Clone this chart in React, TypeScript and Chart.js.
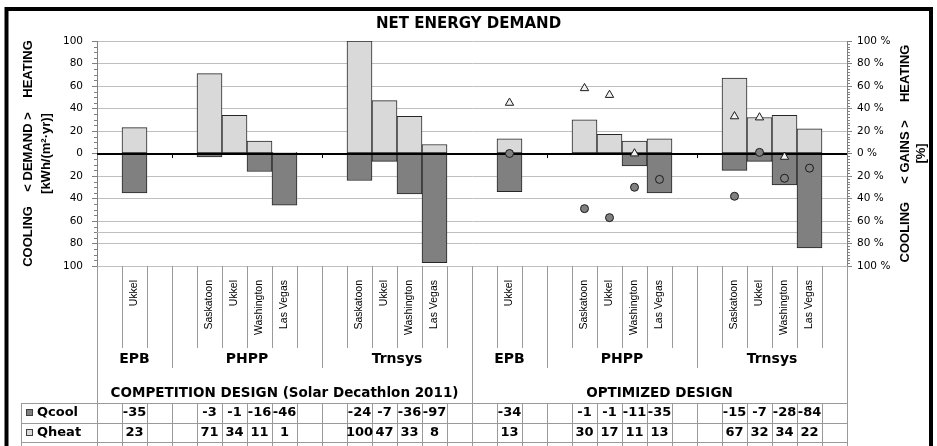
import React, { useEffect, useRef } from 'react';
import { Chart, registerables } from 'chart.js';

Chart.register(...registerables);

// ---------------- data ----------------
const chartTitle = 'NET ENERGY DEMAND';
const designs = ['COMPETITION DESIGN (Solar Decathlon 2011)', 'OPTIMIZED DESIGN'];
const tools = ['EPB', 'PHPP', 'Trnsys'];
const epbCities = ['Ukkel'];
const climateCities = ['Saskatoon', 'Ukkel', 'Washington', 'Las Vegas'];
const toolCities = [epbCities, climateCities, climateCities];

// order: EPB Ukkel | PHPP Saskatoon, Ukkel, Washington, Las Vegas | Trnsys Saskatoon, Ukkel, Washington, Las Vegas
const qcoolCompetition = [-35, -3, -1, -16, -46, -24, -7, -36, -97];
const qheatCompetition = [23, 71, 34, 11, 1, 100, 47, 33, 8];
const qcoolOptimized = [-34, -1, -1, -11, -35, -15, -7, -28, -84];
const qheatOptimized = [13, 30, 17, 11, 13, 67, 32, 34, 22];

// gains [%] (right axis)
const heatingGainsCompetition = [null, null, null, null, null, null, null, null, null];
const heatingGainsOptimized = [45, 58, 52, 0, null, 33, 32, -3, null];
const coolingGainsCompetition = [null, null, null, null, null, null, null, null, null];
const coolingGainsOptimized = [0, -49, -57, -30, -23, -38, 1, -22, -13];

const tableRowNames = ['Qcool', 'Qheat'];
const leftAxisTitle = ['COOLING    < DEMAND >    HEATING', '[kWh/(m²·yr)]'];
const rightAxisTitle = ['COOLING     < GAINS >     HEATING', '[%]'];
const axisMin = -100;
const axisMax = 100;
const axisStep = 20;
const extraGridValue = -70;

// ---------------- category structure ----------------
type Slot = { label: string; design: number; tool: number; item: number | null };
const slots: Slot[] = [];
designs.forEach((_, d) => {
  let item = 0;
  toolCities.forEach((cities, t) => {
    slots.push({ label: '', design: d, tool: t, item: null });
    cities.forEach((c) => {
      slots.push({ label: c, design: d, tool: t, item });
      item += 1;
    });
    slots.push({ label: '', design: d, tool: t, item: null });
  });
});
const categoryLabels = slots.map((s) => s.label);
const place = (perDesign: (number | null)[][]) =>
  slots.map((s) => (s.item === null ? null : perDesign[s.design][s.item] ?? null));

const qcool = place([qcoolCompetition, qcoolOptimized]);
const qheat = place([qheatCompetition, qheatOptimized]);
const heatingGains = place([heatingGainsCompetition, heatingGainsOptimized]);
const coolingGains = place([coolingGainsCompetition, coolingGainsOptimized]);

// ---------------- styles ----------------
const SANS = '"DejaVu Sans"';
const ARIAL = '"Liberation Sans"';
const GRID = '#BFBFBF';
const AXIS = '#808080';
const FRAME_LINE = '#9A9A9A';
const COOL = '#808080';
const HEAT = '#D9D9D9';
const EDGE = '#262626';

function hline(ctx: CanvasRenderingContext2D, x1: number, x2: number, y: number) {
  ctx.beginPath();
  ctx.moveTo(x1, y);
  ctx.lineTo(x2, y);
  ctx.stroke();
}
function vline(ctx: CanvasRenderingContext2D, x: number, y1: number, y2: number) {
  ctx.beginPath();
  ctx.moveTo(x, y1);
  ctx.lineTo(x, y2);
  ctx.stroke();
}
const crisp = (v: number) => Math.round(v) + 0.5;

function drawZero(chart: any) {
  const { ctx, chartArea: a, scales } = chart;
  const py = scales.y.getPixelForValue(0);
  ctx.save();
  ctx.strokeStyle = '#000';
  ctx.lineWidth = 2;
  hline(ctx, a.left, a.right, Math.round(py));
  ctx.restore();
}

const decorPlugin = {
  id: 'decor',
  beforeDatasetsDraw(chart: any) {
    const { ctx, chartArea: a, scales } = chart;
    ctx.save();
    ctx.strokeStyle = GRID;
    ctx.lineWidth = 1;
    hline(ctx, a.left, a.right, crisp(scales.y.getPixelForValue(extraGridValue)));
    ctx.restore();
    chart.$zeroDone = false;
  },
  beforeDatasetDraw(chart: any, args: any) {
    if (args.meta.type === 'bar' || chart.$zeroDone) return;
    drawZero(chart);
    chart.$zeroDone = true;
  },
  afterDatasetsDraw(chart: any) {
    if (!chart.$zeroDone) {
      drawZero(chart);
      chart.$zeroDone = true;
    }
  },
  afterDraw(chart: any) {
    const { ctx, chartArea: a, scales } = chart;
    const x = scales.x;
    const y = scales.y;
    const y2 = scales.y2;
    const H = chart.height;
    const n = slots.length;
    const step = x.getPixelForValue(1) - x.getPixelForValue(0);
    const edge = (b: number) => x.getPixelForValue(0) - step / 2 + b * step;

    const cityTierBottom = a.bottom + 82;
    const toolTierBottom = a.bottom + 102;
    const toolLabelY = a.bottom + 93;
    const designLabelY = a.bottom + 127;
    const tableTop = a.bottom + 137;
    const rowH = 19.5;
    const tableLeft = a.left - 76;

    ctx.save();
    // minor ticks on axes
    ctx.strokeStyle = AXIS;
    ctx.lineWidth = 1;
    for (let v = axisMin; v <= axisMax; v += 5) {
      if (v % axisStep === 0) continue;
      hline(ctx, a.left - 3, a.left, crisp(y.getPixelForValue(v)));
    }
    for (let v = axisMin; v <= axisMax; v += 2.5) {
      if (v % axisStep === 0) continue;
      hline(ctx, a.right, a.right + 3, crisp(y2.getPixelForValue(v)));
    }

    // tick marks on the zero line between tool groups
    const y0 = Math.round(y.getPixelForValue(0));
    ctx.strokeStyle = '#000';
    for (let b = 1; b < n; b++) {
      const p = slots[b - 1];
      const q = slots[b];
      if (p.design === q.design && p.tool !== q.tool) vline(ctx, crisp(edge(b)), y0, y0 + 4);
    }

    // category separators below the plot
    ctx.strokeStyle = FRAME_LINE;
    for (let b = 0; b <= n; b++) {
      const p = slots[b - 1];
      const q = slots[b];
      let endY = cityTierBottom;
      if (!p || !q || p.design !== q.design) endY = H;
      else if (p.tool !== q.tool) endY = toolTierBottom;
      const px = crisp(edge(b));
      vline(ctx, px, a.bottom, endY);
      vline(ctx, px, tableTop, H);
    }
    // table grid
    vline(ctx, crisp(tableLeft), tableTop, H);
    for (let r = 0; r <= tableRowNames.length; r++) {
      hline(ctx, tableLeft, a.right, crisp(tableTop + r * rowH));
    }

    // tool labels
    ctx.fillStyle = '#000';
    ctx.textAlign = 'center';
    ctx.textBaseline = 'middle';
    ctx.font = `bold 14px ${SANS}`;
    designs.forEach((_, d) => {
      tools.forEach((tool, t) => {
        const idx = slots.map((s, i) => (s.design === d && s.tool === t ? i : -1)).filter((i) => i >= 0);
        const cx = (edge(idx[0]) + edge(idx[idx.length - 1] + 1)) / 2;
        ctx.fillText(tool, cx, toolLabelY);
      });
    });
    // design labels
    ctx.font = `bold 13.5px ${SANS}`;
    designs.forEach((name, d) => {
      const idx = slots.map((s, i) => (s.design === d ? i : -1)).filter((i) => i >= 0);
      const cx = (edge(idx[0]) + edge(idx[idx.length - 1] + 1)) / 2;
      ctx.fillText(name, cx, designLabelY);
    });

    // data table
    const rows = [qcool, qheat];
    const rowColors = [COOL, HEAT];
    ctx.font = `bold 13px ${SANS}`;
    rows.forEach((vals, r) => {
      const cy = tableTop + r * rowH + rowH / 2;
      ctx.fillStyle = rowColors[r];
      ctx.fillRect(tableLeft + 5, Math.round(cy - 3.5), 7, 7);
      ctx.strokeStyle = '#404040';
      ctx.strokeRect(tableLeft + 5.5, Math.round(cy - 3.5) + 0.5, 6, 6);
      ctx.fillStyle = '#000';
      ctx.textAlign = 'left';
      ctx.fillText(tableRowNames[r], tableLeft + 16, cy);
      ctx.textAlign = 'center';
      vals.forEach((v, i) => {
        if (v === null) return;
        ctx.fillText(String(v), x.getPixelForValue(i), cy);
      });
    });

    // right axis title (reads bottom to top)
    ctx.font = `bold 13px ${ARIAL}`;
    const cyMid = (a.top + a.bottom) / 2;
    rightAxisTitle.forEach((line, k) => {
      ctx.save();
      ctx.translate(a.right + 58 + k * 16, cyMid);
      ctx.rotate(-Math.PI / 2);
      ctx.fillText(line, 0, 0);
      ctx.restore();
    });

    // outer frame
    ctx.strokeStyle = '#000';
    ctx.lineWidth = 4;
    ctx.strokeRect(6.5, 9, 924.5, H + 20);
    ctx.restore();
  },
};

export default function App() {
  const ref = useRef<HTMLCanvasElement>(null);
  useEffect(() => {
    const canvas = ref.current;
    if (!canvas) return;
    const chart = new Chart(canvas, {
      type: 'bar',
      data: {
        labels: categoryLabels,
        datasets: [
          {
            label: 'Qcool',
            data: qcool,
            backgroundColor: COOL,
            borderColor: EDGE,
            borderWidth: 1,
            borderSkipped: false,
            barPercentage: 1,
            categoryPercentage: 1,
            yAxisID: 'y',
            order: 1,
          },
          {
            label: 'Qheat',
            data: qheat,
            backgroundColor: HEAT,
            borderColor: EDGE,
            borderWidth: 1,
            borderSkipped: false,
            barPercentage: 1,
            categoryPercentage: 1,
            yAxisID: 'y',
            order: 1,
          },
          {
            type: 'line',
            label: 'Heating gains',
            data: heatingGains,
            yAxisID: 'y2',
            showLine: false,
            pointStyle: 'triangle',
            pointRadius: 4.8,
            pointBackgroundColor: '#F2F2F2',
            pointBorderColor: '#1A1A1A',
            pointBorderWidth: 1,
            order: 0,
          },
          {
            type: 'line',
            label: 'Cooling gains',
            data: coolingGains,
            yAxisID: 'y2',
            showLine: false,
            pointStyle: 'circle',
            pointRadius: 4,
            pointBackgroundColor: COOL,
            pointBorderColor: '#1A1A1A',
            pointBorderWidth: 1,
            order: 0,
          },
        ] as any,
      },
      options: {
        animation: false,
        responsive: false,
        devicePixelRatio: 1,
        layout: { padding: { left: 9, right: 9, top: 0, bottom: 0 } },
        plugins: {
          legend: { display: false },
          tooltip: { enabled: false },
          title: {
            display: true,
            text: chartTitle,
            color: '#000',
            font: { family: SANS, size: 15, weight: 'bold', lineHeight: 1.2 },
            padding: { top: 15, bottom: 8 },
          },
        },
        scales: {
          x: {
            stacked: true,
            offset: true,
            grid: { display: false },
            border: { display: false },
            ticks: {
              autoSkip: false,
              minRotation: 90,
              maxRotation: 90,
              padding: 6,
              color: '#000',
              font: { family: ARIAL, size: 10.5 },
            },
            afterFit(s: any) {
              s.height = 180;
            },
          },
          y: {
            stacked: true,
            position: 'left',
            min: axisMin,
            max: axisMax,
            border: { color: AXIS },
            grid: {
              color: (c: any) => (c.tick && c.tick.value === 0 ? '#000' : GRID),
              tickColor: AXIS,
              tickLength: 5,
            },
            ticks: {
              stepSize: axisStep,
              padding: 9,
              color: '#000',
              font: { family: SANS, size: 10.5 },
              callback: (v: any) => String(Math.abs(Number(v))),
            },
            title: {
              display: true,
              text: leftAxisTitle,
              color: '#000',
              font: { family: ARIAL, size: 13, weight: 'bold', lineHeight: 1.4 },
              padding: { top: 10, bottom: 0 },
            },
            afterFit(s: any) {
              s.width = 88;
            },
          },
          y2: {
            position: 'right',
            min: axisMin,
            max: axisMax,
            border: { color: AXIS },
            grid: { drawOnChartArea: false, tickColor: AXIS, tickLength: 5 },
            ticks: {
              stepSize: axisStep,
              padding: 5,
              color: '#000',
              font: { family: SANS, size: 10.5 },
              callback: (v: any) => `${Math.abs(Number(v))} %`,
            },
            afterFit(s: any) {
              s.width = 81;
            },
          },
        },
      } as any,
      plugins: [decorPlugin],
    });
    return () => chart.destroy();
  }, []);

  return (
    <div style={{ position: 'fixed', left: 0, top: 0, width: 937, height: 446, background: '#fff' }}>
      <canvas ref={ref} width={937} height={446} style={{ display: 'block', width: 937, height: 446 }} />
    </div>
  );
}
